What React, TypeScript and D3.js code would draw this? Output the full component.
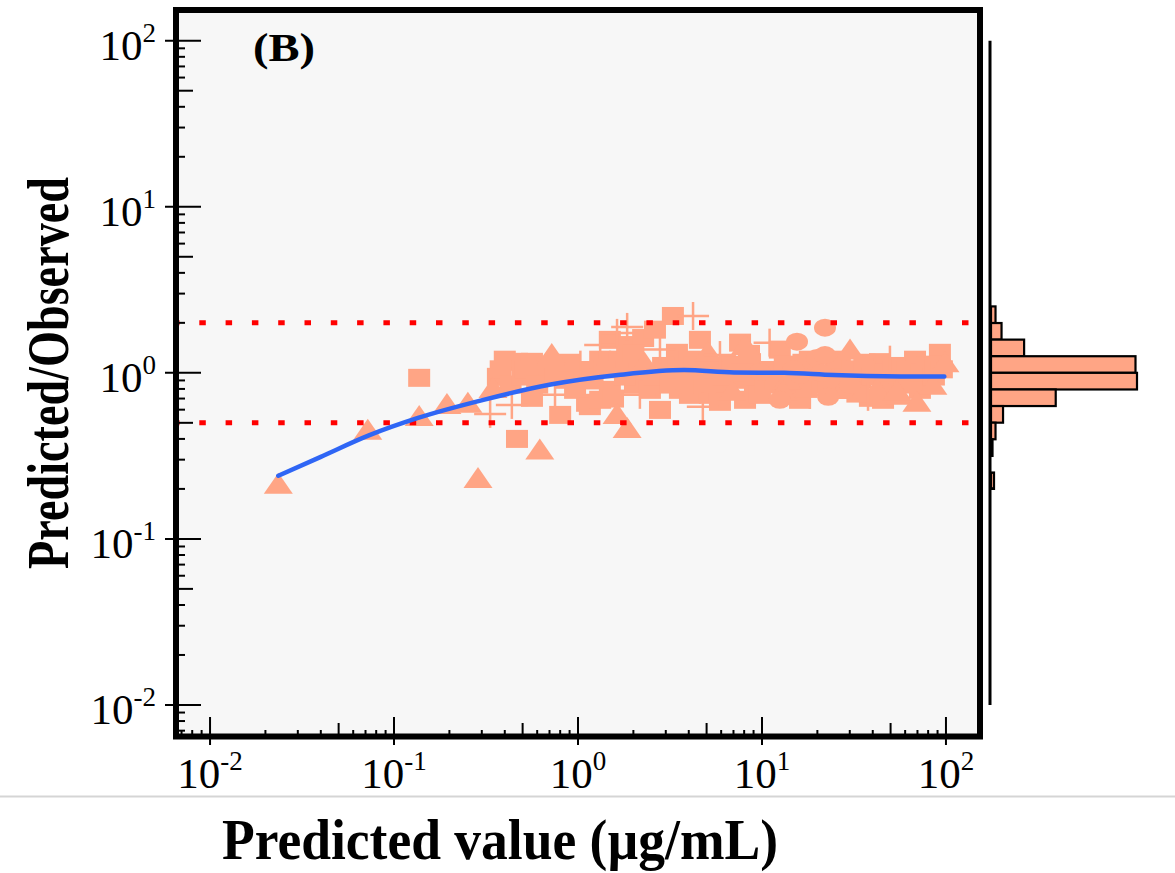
import React from 'react';
import * as d3 from 'd3';

const W = 1175;
const H = 873;

// Scatter data: [predicted value (µg/mL), predicted/observed ratio]
const triangles: [number, number][] = [
  [0.0235, 0.215], [0.072, 0.454], [0.137, 0.55], [0.194, 0.65], [0.252, 0.66],
  [0.286, 0.233], [0.345, 0.81], [0.62, 0.345], [0.72, 1.3], [1.63, 0.566],
  [1.85, 0.466], [5.09, 1.34], [8.09, 1.47], [13.7, 0.908], [30.1, 1.38],
  [56.2, 0.737], [69.5, 0.669], [84.9, 0.847], [98.8, 1.16], [13.0, 0.78],
  [27.5, 0.8], [42.0, 0.8], [54.0, 0.78], [2.3, 1.15], [6.9, 0.78],
];

const squares: [number, number][] = [
  [0.137, 0.933], [0.367, 0.946], [0.4, 1.2], [0.466, 1.165], [0.466, 0.4],
  [0.562, 1.165], [0.562, 0.707], [0.662, 0.973], [0.8, 0.558], [0.85, 0.908],
  [0.964, 0.79], [1.09, 1.04], [1.12, 0.66], [1.16, 0.63], [1.32, 1.2],
  [1.32, 0.688], [1.49, 0.79], [1.49, 1.58], [1.69, 1.2], [1.85, 1.47],
  [2.04, 0.847], [2.17, 1.04], [2.26, 1.62], [2.46, 0.79], [2.62, 1.82],
  [2.79, 0.598], [2.97, 0.973], [3.28, 2.2], [3.45, 1.32], [3.58, 0.79],
  [4.06, 0.737], [4.06, 1.2], [4.6, 0.973], [4.6, 1.58], [5.21, 0.737],
  [5.91, 0.847], [5.91, 0.669], [6.7, 1.12], [7.13, 0.908], [7.6, 1.52],
  [8.09, 0.688], [8.61, 1.16], [9.16, 0.847], [9.75, 0.737], [11.0, 1.04],
  [12.5, 1.38], [13.3, 1.12], [14.2, 0.847], [16.1, 0.688], [18.2, 1.2],
  [19.4, 0.847], [23.4, 0.79], [26.5, 1.12], [28.3, 0.973], [34.1, 0.908],
  [38.6, 0.707], [43.8, 1.16], [45.5, 0.688], [49.6, 0.847], [56.2, 0.973],
  [59.8, 0.908], [67.9, 1.2], [72.2, 0.79], [76.9, 0.908], [81.8, 1.01],
  [92.7, 1.32],
  [0.38, 1.05], [0.43, 0.85], [0.5, 0.95], [0.52, 1.05], [0.6, 0.85],
  [0.7, 1.1], [0.75, 0.95], [0.9, 1.15], [1.2, 0.9], [1.4, 1.05],
  [1.55, 0.7], [1.8, 0.95], [2.0, 1.3], [2.6, 0.95], [2.9, 1.1],
  [3.2, 0.85], [3.5, 1.05], [3.9, 0.9], [4.3, 1.1], [4.9, 0.85],
  [5.5, 1.05], [6.2, 0.95], [7.8, 1.0], [8.5, 1.3], [9.3, 0.95],
  [10.5, 0.85], [11.8, 0.9], [16.8, 1.15], [17.5, 0.8], [24.0, 0.9],
  [25.0, 1.2], [31.0, 1.05], [33.0, 0.75], [36.0, 1.15], [40.0, 0.95],
  [47.0, 1.0], [52.0, 1.1], [62.0, 1.05], [65.0, 0.85], [74.0, 1.0],
  [79.0, 1.1], [86.0, 0.95], [88.0, 1.12], [95.0, 1.05],
];

const circles: [number, number][] = [
  [9.75, 1.01], [12.5, 0.688], [15.5, 1.54], [16.1, 0.973], [19.9, 1.23],
  [22.0, 1.87], [22.0, 1.28], [22.9, 0.717], [30.1, 0.847], [21.0, 1.0],
  [14.8, 1.05],
];

const crosses: [number, number][] = [
  [0.333, 0.566], [0.437, 0.641], [0.75, 0.737], [1.03, 1.12], [1.32, 1.47],
  [1.63, 1.74], [1.85, 1.89], [2.17, 0.737], [2.79, 1.38], [4.22, 2.2],
  [4.77, 0.624], [5.91, 1.28], [11.0, 1.52], [18.2, 0.737], [37.7, 0.717],
  [49.6, 1.2],
];

// Smoothed trend line
const trendX = [0.0235, 0.04, 0.073, 0.135, 0.31, 0.71, 1.65, 3.77, 7.05, 13.2, 24.5, 57, 98];
const trendY = [0.24, 0.312, 0.42, 0.535, 0.69, 0.85, 0.97, 1.04, 1.005, 1.0, 0.97, 0.952, 0.95];

// Reference (2-fold) lines
const foldLines = [2, 0.5];

// Marginal histogram of ratio
const histEdges = [2.512, 1.995, 1.585, 1.259, 1, 0.794, 0.631, 0.501, 0.398, 0.316, 0.251, 0.2];
const histCounts = [3, 7, 22, 96, 97, 43, 8, 3, 1, 0, 2];

const decades = [-2, -1, 0, 1, 2];

const FILL = '#FFA585';
const SERIF = '"Liberation Serif", "Times New Roman", Times, serif';

export default function App() {
  const x = d3.scaleLog().domain([Math.pow(10, -2.185), Math.pow(10, 2.185)]).range([176, 980]);
  const y = d3.scaleLog().domain([Math.pow(10, -2.19), Math.pow(10, 2.185)]).range([736.5, 10]);
  const hx = d3.scaleLinear().domain([0, 97]).range([991, 1137]);

  const xb = 176;
  const yb = 736.5;

  const ticks: { v: number; k: number }[] = [];
  for (let d = -3; d <= 2; d++) {
    for (let k = 1; k <= 9; k++) {
      const v = k * Math.pow(10, d);
      if (v >= Math.pow(10, -2.185) && v <= Math.pow(10, 2.185)) ticks.push({ v, k });
    }
  }

  const line = d3
    .line<number>()
    .x((_, i) => x(trendX[i]))
    .y((_, i) => y(trendY[i]))
    .curve(d3.curveMonotoneX);

  const triPath = (cx: number, cy: number) =>
    `M${cx - 14.5},${cy + 10}L${cx + 14.5},${cy + 10}L${cx},${cy - 11}Z`;

  return (
    <svg
      width={W}
      height={H}
      style={{ position: 'absolute', left: 0, top: 0, background: '#fff' }}
      fontFamily={SERIF}
    >
      <rect x={0} y={0} width={W} height={H} fill="#fff" />
      <rect x={xb} y={10} width={980 - xb} height={yb - 10} fill="#F7F7F7" />

      {/* points */}
      <g fill={FILL}>
        {squares.map((p, i) => (
          <rect key={'s' + i} x={x(p[0]) - 11} y={y(p[1]) - 9} width={22} height={18} />
        ))}
        {triangles.map((p, i) => (
          <path key={'t' + i} d={triPath(x(p[0]), y(p[1]))} />
        ))}
        {circles.map((p, i) => (
          <ellipse key={'c' + i} cx={x(p[0])} cy={y(p[1])} rx={11} ry={9} />
        ))}
      </g>
      <g stroke={FILL} strokeWidth={2.5}>
        {crosses.map((p, i) => (
          <g key={'p' + i}>
            <line x1={x(p[0]) - 16} x2={x(p[0]) + 16} y1={y(p[1])} y2={y(p[1])} />
            <line x1={x(p[0])} x2={x(p[0])} y1={y(p[1]) - 14} y2={y(p[1]) + 14} />
          </g>
        ))}
      </g>

      {/* fold lines */}
      {foldLines.map((f) => (
        <line
          key={f}
          x1={173}
          x2={980}
          y1={y(f)}
          y2={y(f)}
          stroke="#FF0000"
          strokeWidth={5}
          strokeDasharray="6.5 19.8"
        />
      ))}

      {/* trend */}
      <path d={line(trendX) || ''} fill="none" stroke="#2F66F5" strokeWidth={4.5} strokeLinecap="round" />

      {/* frame */}
      <rect x={xb} y={10} width={980 - xb} height={yb - 10} fill="none" stroke="#000" strokeWidth={6} />

      {/* x ticks */}
      <g stroke="#000" strokeWidth={2}>
        {ticks.map((t, i) => {
          const px = x(t.v);
          if (px < xb + 2) return null;
          const top = t.k === 1 ? yb - 19.5 : t.k === 5 ? yb - 13.5 : yb - 6.5;
          const bot = t.k === 1 ? yb + 8.5 : yb;
          return <line key={'xt' + i} x1={px} x2={px} y1={top} y2={bot} />;
        })}
        {ticks.map((t, i) => {
          const py = y(t.v);
          if (py > yb - 2) return null;
          const right = t.k === 1 ? xb + 25 : t.k === 5 ? xb + 17 : xb + 9;
          const left = t.k === 1 ? xb - 11 : xb;
          return <line key={'yt' + i} x1={left} x2={right} y1={py} y2={py} />;
        })}
      </g>

      {/* tick labels */}
      <g fill="#000" fontSize={43}>
        {decades.map((d) => (
          <text key={'xl' + d} x={x(Math.pow(10, d))} y={788} textAnchor="middle">
            10
            <tspan dy={-18} fontSize={27}>
              {String(d)}
            </tspan>
          </text>
        ))}
        {decades.map((d) => (
          <text key={'yl' + d} x={156} y={y(Math.pow(10, d)) + 19} textAnchor="end">
            10
            <tspan dy={-18} fontSize={27}>
              {String(d)}
            </tspan>
          </text>
        ))}
      </g>

      {/* marginal histogram */}
      <line x1={990} x2={990} y1={y(100)} y2={y(0.01)} stroke="#000" strokeWidth={3} />
      <g fill={FILL} stroke="#000" strokeWidth={2.2}>
        {histCounts.map((c, i) =>
          c > 0 ? (
            <rect
              key={'h' + i}
              x={hx(0)}
              y={y(histEdges[i])}
              width={hx(c) - hx(0)}
              height={y(histEdges[i + 1]) - y(histEdges[i])}
            />
          ) : null
        )}
      </g>

      {/* panel label */}
      <text x={253} y={61} fontSize={41} fontWeight="bold" textLength={62} lengthAdjust="spacingAndGlyphs">
        (B)
      </text>

      {/* separator */}
      <line x1={0} x2={W} y1={796.5} y2={796.5} stroke="#D5D5D5" strokeWidth={2} />

      {/* axis titles */}
      <text
        transform="translate(68,373) rotate(-90)"
        textAnchor="middle"
        fontSize={60}
        fontWeight="bold"
        textLength={392}
        lengthAdjust="spacingAndGlyphs"
      >
        Predicted/Observed
      </text>
      <text
        x={500}
        y={859}
        textAnchor="middle"
        fontSize={56}
        fontWeight="bold"
        textLength={556}
        lengthAdjust="spacingAndGlyphs"
      >
        Predicted value (µg/mL)
      </text>
    </svg>
  );
}
